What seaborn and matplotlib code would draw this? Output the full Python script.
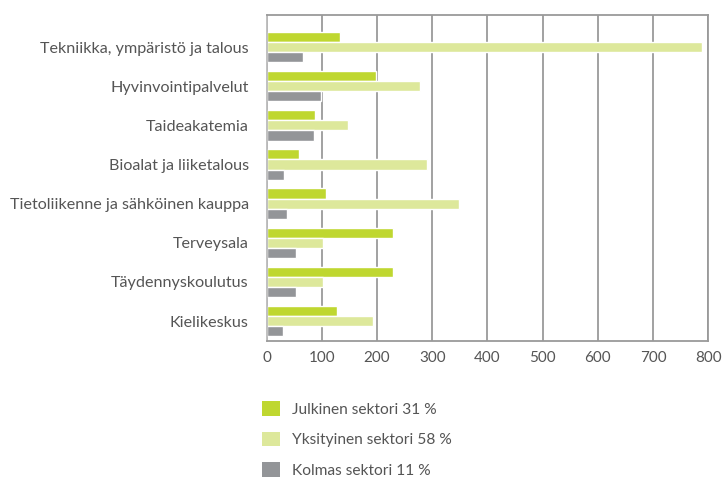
import pandas as pd
import matplotlib.pyplot as plt
import seaborn as sns
from matplotlib.patches import Patch

yksikot = ["Tekniikka, ympäristö ja talous", "Hyvinvointipalvelut", "Taideakatemia",
           "Bioalat ja liiketalous", "Tietoliikenne ja sähköinen kauppa", "Terveysala",
           "Täydennyskoulutus", "Kielikeskus"]
julkinen = [133, 198, 87, 58, 107, 229, 229, 127]
yksityinen = [788, 278, 147, 290, 348, 102, 102, 192]
kolmas = [65, 98, 86, 31, 37, 53, 53, 30]
sektorit = ["Julkinen sektori 31 %", "Yksityinen sektori 58 %", "Kolmas sektori 11 %"]
varit = ["#BFD730", "#DDE89B", "#939598"]

df = pd.DataFrame({"yksikko": yksikot, sektorit[0]: julkinen,
                   sektorit[1]: yksityinen, sektorit[2]: kolmas})
df = df.melt(id_vars="yksikko", var_name="sektori", value_name="arvo")

sns.set_style("white")
plt.rcParams["font.family"] = ["Lato", "DejaVu Sans"]
tekstivari = "#555555"

fig = plt.figure(figsize=(7.23, 4.79), dpi=100)
ax = fig.add_axes([266.7 / 723, 1 - 341 / 479, (708.3 - 266.7) / 723, (341 - 15) / 479])

sns.barplot(data=df, y="yksikko", x="arvo", hue="sektori", orient="h",
            palette=varit, width=0.78, saturation=1, legend=False, ax=ax)

ax.set_xlim(0, 800)
ax.set_ylim(7.51, -0.82)
ax.set_xticks(range(0, 801, 100))
ax.xaxis.grid(True, color="#9a9a9a", linewidth=1.3)
ax.set_axisbelow(True)
ax.set_xlabel("")
ax.set_ylabel("")
for s in ["top", "bottom", "right"]:
    ax.spines[s].set_color("#9a9a9a")
ax.spines["left"].set_color("#bbbbbb")
for s in ax.spines.values():
    s.set_linewidth(1.3)
ax.tick_params(axis="x", length=0, pad=7, labelsize=11, labelcolor=tekstivari)
ax.tick_params(axis="y", length=0, pad=13, labelsize=11.6, labelcolor=tekstivari)

kahvat = [Patch(facecolor=c, edgecolor="none") for c in varit]
fig.legend(kahvat, sektorit, loc="upper left", bbox_to_anchor=(262 / 723, 1 - 401 / 479),
           frameon=False, fontsize=11.2, labelcolor=tekstivari, borderpad=0, borderaxespad=0,
           handlelength=1.15, handleheight=1.1, handletextpad=0.8, labelspacing=0.95)

fig.savefig("out.png", dpi=100)
